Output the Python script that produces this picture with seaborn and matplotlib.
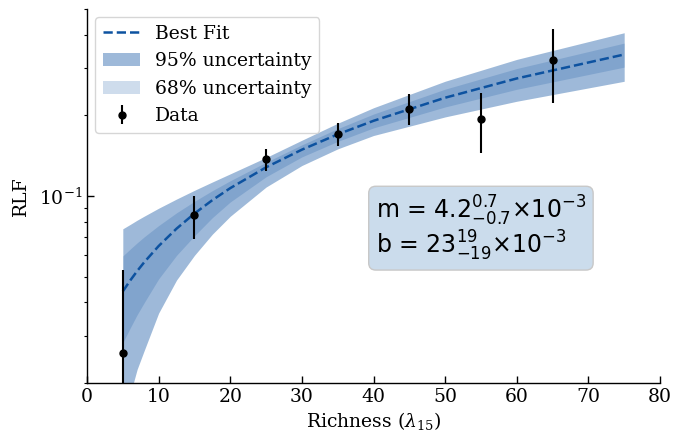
import matplotlib
matplotlib.use("Agg")
import matplotlib.pyplot as plt
import seaborn as sns
from matplotlib.ticker import NullFormatter, LogLocator, MultipleLocator, FixedLocator

# ---- data ----
richness = [5, 15, 25, 35, 45, 55, 65]
rlf = [0.026, 0.0847, 0.137, 0.171, 0.212, 0.194, 0.322]
rlf_err = [0.027, 0.0155, 0.0127, 0.017, 0.028, 0.049, 0.099]

fit_x = [5, 6, 7, 8, 10, 12.5, 15, 17.5, 20, 25, 30, 35, 40, 50, 60, 75]
fit_y = [0.044, 0.0482, 0.0524, 0.0566, 0.065, 0.0755, 0.086, 0.0965, 0.107,
         0.128, 0.149, 0.170, 0.191, 0.233, 0.275, 0.338]
band68_lo = [0.0283, 0.0320, 0.0360, 0.0400, 0.0490, 0.0600, 0.0710, 0.0830, 0.0950,
             0.1180, 0.1400, 0.1600, 0.1797, 0.2152, 0.2505, 0.3032]
band68_hi = [0.0597, 0.0632, 0.0668, 0.0704, 0.0775, 0.0865, 0.0955, 0.1047, 0.1140,
             0.1337, 0.1553, 0.1785, 0.2024, 0.2508, 0.2995, 0.3728]
band95_lo = [0.0126, 0.0180, 0.0225, 0.0265, 0.0365, 0.0485, 0.0600, 0.0720, 0.0840,
             0.1080, 0.1300, 0.1500, 0.1683, 0.1975, 0.2260, 0.2684]
band95_hi = [0.0754, 0.0782, 0.0812, 0.0841, 0.0900, 0.0974, 0.1050, 0.1128, 0.1210,
             0.1393, 0.1616, 0.1870, 0.2137, 0.2685, 0.3240, 0.4076]

fit_text = ("m = $4.2^{0.7}_{-0.7}{\\times}10^{-3}$\n"
            "b = $23^{19}_{-19}{\\times}10^{-3}$")

C = "#0d52a0"
FS = 13.5

sns.set_style("ticks")
plt.rcParams["font.family"] = ["DejaVu Serif"]
plt.rcParams["mathtext.fontset"] = "dejavuserif"
for k in ["text.color", "axes.labelcolor", "xtick.color", "ytick.color",
          "axes.edgecolor"]:
    plt.rcParams[k] = "black"

fig = plt.figure(figsize=(6.78, 4.32), dpi=100)
ax = fig.add_axes([87 / 678, 49 / 432, 573 / 678, 374 / 432])

h95 = ax.fill_between(fit_x, band95_lo, band95_hi, color=C, alpha=0.4, lw=0,
                      label="95% uncertainty")
h68 = ax.fill_between(fit_x, band68_lo, band68_hi, color=C, alpha=0.2, lw=0,
                      label="68% uncertainty")
sns.lineplot(x=fit_x, y=fit_y, ax=ax, color=C, linestyle="--", lw=1.8,
             label="Best Fit", legend=False)
hdata = ax.errorbar(richness, rlf, yerr=rlf_err, fmt="o", color="black",
                    ms=5, elinewidth=1.5, label="Data", zorder=5)

ax.set_yscale("log")
ax.set_xlim(0, 80)
ax.set_ylim(0.02, 0.5)
ax.xaxis.set_major_locator(MultipleLocator(10))
ax.yaxis.set_major_locator(FixedLocator([0.1]))
ax.yaxis.set_minor_locator(LogLocator(base=10, subs=range(2, 10)))
ax.yaxis.set_minor_formatter(NullFormatter())

sns.despine(ax=ax)
for s in ["left", "bottom"]:
    ax.spines[s].set_linewidth(1.0)

ax.tick_params(which="major", direction="in", length=5, width=1, labelsize=FS)
ax.tick_params(which="minor", direction="out", length=2.5, width=0.8)

ax.set_xlabel(r"Richness ($\lambda_{15}$)", fontsize=FS, labelpad=3)
ax.set_ylabel("RLF", fontsize=FS, labelpad=6)

line_handle = ax.get_lines()[0]
ax.legend([line_handle, h95, h68, hdata],
          ["Best Fit", "95% uncertainty", "68% uncertainty", "Data"],
          loc="upper left", fontsize=FS, frameon=True, borderaxespad=0.45)

ax.text(0.504, 0.414, fit_text, transform=ax.transAxes, fontsize=17,
        va="center", ha="left", family="DejaVu Sans",
        math_fontfamily="dejavusans", linespacing=1.05,
        bbox=dict(boxstyle="round", fc="#cbdcec", ec="#c8c8c8"))

fig.savefig("out.png", dpi=100)
